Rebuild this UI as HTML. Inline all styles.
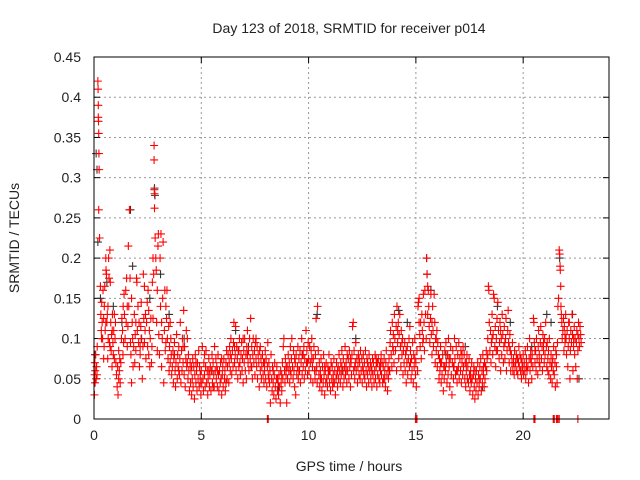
<!DOCTYPE html>
<html><head><meta charset="utf-8"><style>
html,body{margin:0;padding:0;background:#fff}
svg{display:block}
text{font-family:"Liberation Sans",sans-serif;font-size:14px;fill:#222}
</style></head><body>
<svg id="chart" width="640" height="480">
<text x="349" y="33" text-anchor="middle">Day 123 of 2018, SRMTID for receiver p014</text>
<text x="349" y="471" text-anchor="middle">GPS time / hours</text>
<text transform="translate(19,238) rotate(-90)" text-anchor="middle">SRMTID / TECUs</text>
<g id="grid"></g>
<g id="ticks"></g>
<g id="black"></g>
<g id="red"></g>
<rect x="94" y="57" width="515" height="362" fill="none" stroke="#000" stroke-width="1"/>
</svg>
<script>
const xTicks=[0,5,10,15,20];
const yTicks=[0,0.05,0.1,0.15,0.2,0.25,0.3,0.35,0.4,0.45];
const yTickLabels=["0","0.05","0.1","0.15","0.2","0.25","0.3","0.35","0.4","0.45"];
const redPts=[
[0.02,0.03],[0.03,0.055],[0.04,0.07],[0.05,0.045],[0.06,0.06],[0.08,0.08],[0.1,0.05],[0.12,0.065],[0.14,0.055],[0.15,0.09],
[0.18,0.42],[0.19,0.41],[0.2,0.39],[0.2,0.375],[0.21,0.37],[0.22,0.355],[0.23,0.33],[0.24,0.31],[0.22,0.26],[0.26,0.225],
[0.3,0.165],[0.32,0.13],[0.34,0.11],[0.36,0.145],[0.38,0.12],[0.4,0.1],[0.42,0.16],[0.45,0.125],[0.47,0.09],[0.48,0.14],
[0.5,0.165],[0.52,0.11],[0.55,0.2],[0.56,0.185],[0.58,0.18],[0.6,0.12],[0.62,0.13],[0.64,0.075],[0.66,0.1],[0.68,0.2],
[0.7,0.175],[0.72,0.095],[0.74,0.21],[0.76,0.17],[0.78,0.12],[0.8,0.085],[0.82,0.105],[0.84,0.065],[0.86,0.13],[0.88,0.095],
[0.9,0.08],[0.92,0.11],[0.95,0.075],[0.98,0.1],[1.0,0.12],[1.02,0.07],[1.05,0.055],[1.08,0.04],[1.1,0.065],[1.12,0.03],
[1.15,0.05],[1.18,0.06],[1.2,0.075],[1.22,0.045],[1.25,0.07],[1.28,0.1],[1.3,0.125],[1.33,0.11],[1.36,0.14],[1.38,0.095],
[1.4,0.155],[1.42,0.13],[1.45,0.1],[1.48,0.16],[1.5,0.12],[1.52,0.175],[1.55,0.09],[1.58,0.115],[1.6,0.215],[1.62,0.14],
[1.65,0.26],[1.68,0.175],[1.7,0.095],[1.72,0.08],[1.75,0.045],[1.78,0.12],[1.8,0.1],[1.82,0.065],[1.85,0.09],[1.88,0.13],
[1.9,0.07],[1.92,0.105],[1.95,0.085],[1.98,0.175],[2.0,0.17],[2.02,0.11],[2.05,0.14],[2.08,0.095],[2.1,0.12],[2.12,0.065],
[2.15,0.08],[2.18,0.115],[2.2,0.145],[2.22,0.1],[2.25,0.05],[2.28,0.09],[2.3,0.18],[2.32,0.125],[2.35,0.165],[2.38,0.11],
[2.4,0.13],[2.42,0.075],[2.45,0.12],[2.48,0.145],[2.5,0.09],[2.52,0.16],[2.55,0.135],[2.58,0.11],[2.6,0.065],[2.62,0.1],
[2.65,0.125],[2.68,0.07],[2.7,0.09],[2.72,0.17],[2.75,0.2],[2.78,0.18],[2.8,0.34],[2.8,0.322],[2.81,0.285],[2.82,0.28],
[2.82,0.262],[2.85,0.225],[2.88,0.2],[2.9,0.185],[2.92,0.12],[2.95,0.16],[2.98,0.215],[3.0,0.23],[3.02,0.105],[3.05,0.08],
[3.08,0.2],[3.1,0.14],[3.12,0.23],[3.15,0.065],[3.18,0.1],[3.2,0.15],[3.22,0.22],[3.25,0.045],[3.28,0.11],[3.3,0.16],
[3.32,0.085],[3.35,0.14],[3.38,0.125],[3.4,0.16],[3.42,0.1],[3.45,0.075],[3.48,0.115],[3.5,0.06],[3.52,0.09],[3.55,0.07],
[3.58,0.1],[3.6,0.08],[3.62,0.055],[3.65,0.065],[3.68,0.085],[3.7,0.045],[3.72,0.075],[3.75,0.095],[3.78,0.06],[3.8,0.04],
[3.82,0.07],[3.85,0.105],[3.88,0.05],[3.9,0.08],[3.92,0.065],[3.95,0.09],[3.98,0.055],[4.0,0.075],[4.02,0.12],[4.05,0.045],
[4.08,0.085],[4.1,0.06],[4.12,0.1],[4.15,0.07],[4.18,0.135],[4.2,0.055],[4.22,0.09],[4.25,0.04],[4.28,0.075],[4.3,0.11],
[4.32,0.065],[4.35,0.1],[4.38,0.05],[4.4,0.08],[4.42,0.06],[4.45,0.035],[4.48,0.07],[4.5,0.045],[4.52,0.06],[4.55,0.03],
[4.58,0.05],[4.6,0.075],[4.62,0.04],[4.65,0.065],[4.68,0.025],[4.7,0.055],[4.72,0.08],[4.75,0.045],[4.78,0.06],[4.8,0.035],
[4.82,0.07],[4.85,0.05],[4.88,0.085],[4.9,0.04],[4.92,0.065],[4.95,0.055],[4.98,0.03],[5.0,0.06],[5.02,0.045],[5.05,0.09],
[5.08,0.05],[5.1,0.035],[5.12,0.07],[5.15,0.055],[5.18,0.04],[5.2,0.065],[5.22,0.085],[5.25,0.045],[5.28,0.06],[5.3,0.03],
[5.32,0.05],[5.35,0.075],[5.38,0.04],[5.4,0.055],[5.42,0.065],[5.45,0.035],[5.48,0.06],[5.5,0.08],[5.52,0.045],[5.55,0.07],
[5.58,0.055],[5.6,0.04],[5.62,0.09],[5.65,0.06],[5.68,0.075],[5.7,0.05],[5.72,0.065],[5.75,0.04],[5.78,0.08],[5.8,0.055],
[5.82,0.035],[5.85,0.06],[5.88,0.045],[5.9,0.07],[5.92,0.05],[5.95,0.03],[5.98,0.055],[6.0,0.065],[6.02,0.04],[6.05,0.075],
[6.08,0.05],[6.1,0.06],[6.12,0.035],[6.15,0.07],[6.18,0.085],[6.2,0.05],[6.22,0.065],[6.25,0.08],[6.28,0.045],[6.3,0.07],
[6.32,0.09],[6.35,0.06],[6.38,0.1],[6.4,0.075],[6.42,0.055],[6.45,0.085],[6.48,0.065],[6.5,0.095],[6.52,0.12],[6.55,0.07],
[6.58,0.08],[6.6,0.115],[6.62,0.06],[6.65,0.09],[6.68,0.075],[6.7,0.05],[6.72,0.085],[6.75,0.065],[6.78,0.1],[6.8,0.07],
[6.82,0.055],[6.85,0.08],[6.88,0.095],[6.9,0.06],[6.92,0.075],[6.95,0.045],[6.98,0.085],[7.0,0.07],[7.02,0.1],[7.05,0.06],
[7.08,0.08],[7.1,0.05],[7.12,0.09],[7.15,0.11],[7.18,0.07],[7.2,0.085],[7.22,0.06],[7.25,0.1],[7.28,0.075],[7.3,0.125],
[7.32,0.065],[7.35,0.09],[7.38,0.05],[7.4,0.08],[7.42,0.1],[7.45,0.07],[7.48,0.085],[7.5,0.055],[7.52,0.095],[7.55,0.075],
[7.58,0.065],[7.6,0.09],[7.62,0.05],[7.65,0.08],[7.68,0.07],[7.7,0.04],[7.72,0.085],[7.75,0.06],[7.78,0.075],[7.8,0.05],
[7.82,0.065],[7.85,0.08],[7.88,0.055],[7.9,0.07],[7.92,0.045],[7.95,0.06],[7.98,0.085],[8.0,0.05],[8.02,0.075],[8.05,0.04],
[8.08,0.065],[8.1,0.095],[8.12,0.055],[8.15,0.07],[8.18,0.045],[8.2,0.06],[8.22,0.02],[8.25,0.08],[8.28,0.05],[8.3,0.035],
[8.32,0.065],[8.35,0.045],[8.38,0.03],[8.4,0.055],[8.42,0.07],[8.45,0.04],[8.48,0.025],[8.5,0.05],[8.52,0.065],[8.55,0.035],
[8.58,0.045],[8.6,0.03],[8.62,0.055],[8.65,0.04],[8.68,0.02],[8.7,0.06],[8.72,0.045],[8.75,0.035],[8.78,0.07],[8.8,0.05],
[8.82,0.09],[8.85,0.1],[8.88,0.06],[8.9,0.045],[8.92,0.075],[8.95,0.055],[8.98,0.02],[9.0,0.065],[9.02,0.05],[9.05,0.08],
[9.08,0.06],[9.1,0.07],[9.12,0.045],[9.15,0.09],[9.18,0.055],[9.2,0.075],[9.22,0.1],[9.25,0.065],[9.28,0.05],[9.3,0.085],
[9.32,0.06],[9.35,0.04],[9.38,0.07],[9.4,0.03],[9.42,0.08],[9.45,0.055],[9.48,0.065],[9.5,0.09],[9.52,0.05],[9.55,0.075],
[9.58,0.06],[9.6,0.085],[9.62,0.045],[9.65,0.07],[9.68,0.1],[9.7,0.055],[9.72,0.08],[9.75,0.065],[9.78,0.09],[9.8,0.05],
[9.82,0.075],[9.85,0.06],[9.88,0.11],[9.9,0.07],[9.92,0.085],[9.95,0.055],[9.98,0.095],[10.0,0.075],[10.02,0.06],[10.05,0.09],
[10.08,0.07],[10.1,0.05],[10.12,0.085],[10.15,0.1],[10.18,0.065],[10.2,0.045],[10.22,0.075],[10.25,0.09],[10.28,0.06],[10.3,0.05],
[10.32,0.08],[10.35,0.125],[10.38,0.065],[10.4,0.045],[10.42,0.14],[10.45,0.085],[10.48,0.055],[10.5,0.07],[10.52,0.04],[10.55,0.06],
[10.58,0.075],[10.6,0.05],[10.62,0.035],[10.65,0.065],[10.68,0.045],[10.7,0.08],[10.72,0.055],[10.75,0.03],[10.78,0.06],[10.8,0.045],
[10.82,0.07],[10.85,0.05],[10.88,0.04],[10.9,0.065],[10.92,0.055],[10.95,0.08],[10.98,0.045],[11.0,0.06],[11.02,0.035],[11.05,0.07],
[11.08,0.05],[11.1,0.065],[11.12,0.04],[11.15,0.055],[11.18,0.075],[11.2,0.045],[11.22,0.06],[11.25,0.03],[11.28,0.05],[11.3,0.07],
[11.32,0.055],[11.35,0.04],[11.38,0.065],[11.4,0.05],[11.42,0.08],[11.45,0.06],[11.48,0.045],[11.5,0.07],[11.52,0.055],[11.55,0.085],
[11.58,0.06],[11.6,0.04],[11.62,0.075],[11.65,0.05],[11.68,0.065],[11.7,0.09],[11.72,0.055],[11.75,0.07],[11.78,0.045],[11.8,0.08],
[11.82,0.06],[11.85,0.075],[11.88,0.05],[11.9,0.085],[11.92,0.065],[11.95,0.04],[11.98,0.07],[12.0,0.055],[12.02,0.08],[12.05,0.115],
[12.08,0.12],[12.1,0.06],[12.12,0.085],[12.15,0.05],[12.18,0.07],[12.2,0.095],[12.22,0.06],[12.25,0.075],[12.28,0.045],[12.3,0.065],
[12.32,0.08],[12.35,0.055],[12.38,0.07],[12.4,0.05],[12.42,0.085],[12.45,0.06],[12.48,0.075],[12.5,0.045],[12.52,0.065],[12.55,0.08],
[12.58,0.055],[12.6,0.07],[12.62,0.05],[12.65,0.085],[12.68,0.06],[12.7,0.04],[12.72,0.075],[12.75,0.055],[12.78,0.065],[12.8,0.045],
[12.82,0.08],[12.85,0.06],[12.88,0.07],[12.9,0.05],[12.92,0.065],[12.95,0.04],[12.98,0.075],[13.0,0.055],[13.02,0.07],[13.05,0.045],
[13.08,0.06],[13.1,0.08],[13.12,0.05],[13.15,0.065],[13.18,0.04],[13.2,0.07],[13.22,0.055],[13.25,0.075],[13.28,0.05],[13.3,0.065],
[13.32,0.045],[13.35,0.06],[13.38,0.08],[13.4,0.055],[13.42,0.07],[13.45,0.045],[13.48,0.065],[13.5,0.05],[13.52,0.075],[13.55,0.06],
[13.58,0.04],[13.6,0.07],[13.62,0.085],[13.65,0.055],[13.68,0.035],[13.7,0.065],[13.72,0.05],[13.75,0.075],[13.78,0.06],[13.8,0.095],
[13.82,0.11],[13.85,0.08],[13.88,0.065],[13.9,0.12],[13.92,0.09],[13.95,0.105],[13.98,0.07],[14.0,0.13],[14.02,0.1],[14.05,0.085],
[14.08,0.115],[14.1,0.06],[14.12,0.14],[14.15,0.095],[14.18,0.12],[14.2,0.075],[14.22,0.105],[14.25,0.13],[14.28,0.09],[14.3,0.065],
[14.32,0.11],[14.35,0.08],[14.38,0.1],[14.4,0.055],[14.42,0.085],[14.45,0.07],[14.48,0.095],[14.5,0.06],[14.52,0.08],[14.55,0.045],
[14.58,0.07],[14.6,0.09],[14.62,0.055],[14.65,0.075],[14.68,0.1],[14.7,0.065],[14.72,0.115],[14.75,0.085],[14.78,0.05],[14.8,0.075],
[14.82,0.06],[14.85,0.095],[14.88,0.045],[14.9,0.08],[14.92,0.065],[14.95,0.1],[14.98,0.055],[15.0,0.07],[15.02,0.04],[15.05,0.085],
[15.08,0.06],[15.1,0.14],[15.12,0.145],[15.15,0.15],[15.18,0.105],[15.2,0.09],[15.22,0.12],[15.25,0.075],[15.28,0.13],[15.3,0.11],
[15.32,0.095],[15.35,0.155],[15.38,0.12],[15.4,0.085],[15.42,0.16],[15.45,0.13],[15.48,0.1],[15.5,0.2],[15.52,0.18],[15.55,0.165],
[15.58,0.16],[15.6,0.14],[15.62,0.115],[15.65,0.095],[15.68,0.125],[15.7,0.155],[15.72,0.105],[15.75,0.08],[15.78,0.14],[15.8,0.11],
[15.82,0.09],[15.85,0.155],[15.88,0.12],[15.9,0.07],[15.92,0.1],[15.95,0.085],[15.98,0.11],[16.0,0.065],[16.02,0.095],[16.05,0.08],
[16.08,0.05],[16.1,0.075],[16.12,0.06],[16.15,0.09],[16.18,0.045],[16.2,0.07],[16.22,0.055],[16.25,0.08],[16.28,0.035],[16.3,0.065],
[16.32,0.05],[16.35,0.085],[16.38,0.06],[16.4,0.095],[16.42,0.07],[16.45,0.045],[16.48,0.08],[16.5,0.055],[16.52,0.1],[16.55,0.065],
[16.58,0.04],[16.6,0.075],[16.62,0.09],[16.65,0.055],[16.68,0.03],[16.7,0.07],[16.72,0.085],[16.75,0.05],[16.78,0.065],[16.8,0.1],
[16.82,0.075],[16.85,0.055],[16.88,0.09],[16.9,0.06],[16.92,0.045],[16.95,0.08],[16.98,0.065],[17.0,0.095],[17.02,0.05],[17.05,0.075],
[17.08,0.06],[17.1,0.085],[17.12,0.045],[17.15,0.07],[17.18,0.055],[17.2,0.09],[17.22,0.065],[17.25,0.08],[17.28,0.05],[17.3,0.07],
[17.32,0.04],[17.35,0.06],[17.38,0.08],[17.4,0.05],[17.42,0.065],[17.45,0.045],[17.48,0.075],[17.5,0.055],[17.52,0.035],[17.55,0.06],
[17.58,0.045],[17.6,0.07],[17.62,0.05],[17.65,0.03],[17.68,0.055],[17.7,0.065],[17.72,0.04],[17.75,0.025],[17.78,0.05],[17.8,0.035],
[17.82,0.06],[17.85,0.045],[17.88,0.07],[17.9,0.03],[17.92,0.055],[17.95,0.04],[17.98,0.065],[18.0,0.05],[18.02,0.075],[18.05,0.035],
[18.08,0.06],[18.1,0.045],[18.12,0.08],[18.15,0.055],[18.18,0.04],[18.2,0.07],[18.22,0.05],[18.25,0.065],[18.28,0.085],[18.3,0.06],
[18.32,0.075],[18.35,0.1],[18.38,0.165],[18.4,0.16],[18.42,0.12],[18.45,0.085],[18.48,0.11],[18.5,0.07],[18.52,0.095],[18.55,0.13],
[18.58,0.08],[18.6,0.105],[18.62,0.155],[18.65,0.15],[18.68,0.09],[18.7,0.115],[18.72,0.065],[18.75,0.1],[18.78,0.125],[18.8,0.085],
[18.82,0.145],[18.85,0.11],[18.88,0.075],[18.9,0.095],[18.92,0.12],[18.95,0.06],[18.98,0.1],[19.0,0.08],[19.02,0.13],[19.05,0.105],
[19.08,0.07],[19.1,0.09],[19.12,0.115],[19.15,0.075],[19.18,0.1],[19.2,0.125],[19.22,0.06],[19.25,0.085],[19.28,0.11],[19.3,0.135],
[19.32,0.095],[19.35,0.07],[19.38,0.105],[19.4,0.085],[19.42,0.06],[19.45,0.08],[19.48,0.07],[19.5,0.095],[19.52,0.06],[19.55,0.075],
[19.58,0.055],[19.6,0.085],[19.62,0.065],[19.65,0.07],[19.68,0.08],[19.7,0.06],[19.72,0.075],[19.75,0.055],[19.78,0.07],[19.8,0.09],
[19.82,0.065],[19.85,0.08],[19.88,0.06],[19.9,0.075],[19.92,0.05],[19.95,0.07],[19.98,0.065],[20.0,0.08],[20.02,0.055],[20.05,0.07],
[20.08,0.06],[20.1,0.085],[20.12,0.05],[20.15,0.075],[20.18,0.06],[20.2,0.09],[20.22,0.065],[20.25,0.045],[20.28,0.075],[20.3,0.1],
[20.32,0.06],[20.35,0.085],[20.38,0.07],[20.4,0.05],[20.42,0.08],[20.45,0.065],[20.48,0.125],[20.5,0.12],[20.52,0.095],[20.55,0.07],
[20.58,0.085],[20.6,0.06],[20.62,0.1],[20.65,0.075],[20.68,0.055],[20.7,0.09],[20.72,0.11],[20.75,0.08],[20.78,0.065],[20.8,0.095],
[20.82,0.115],[20.85,0.075],[20.88,0.09],[20.9,0.06],[20.92,0.105],[20.95,0.085],[20.98,0.07],[21.0,0.1],[21.02,0.08],[21.05,0.12],
[21.08,0.09],[21.1,0.065],[21.12,0.095],[21.15,0.075],[21.18,0.085],[21.2,0.055],[21.22,0.1],[21.25,0.07],[21.28,0.05],[21.3,0.08],
[21.32,0.065],[21.35,0.045],[21.38,0.075],[21.4,0.06],[21.42,0.09],[21.45,0.055],[21.48,0.07],[21.5,0.04],[21.52,0.085],[21.55,0.065],
[21.58,0.045],[21.6,0.095],[21.62,0.14],[21.65,0.15],[21.68,0.21],[21.7,0.205],[21.72,0.19],[21.73,0.185],[21.75,0.165],[21.76,0.14],
[21.78,0.13],[21.8,0.12],[21.82,0.1],[21.85,0.11],[21.88,0.125],[21.9,0.085],[21.92,0.115],[21.95,0.095],[21.98,0.13],[22.0,0.1],
[22.02,0.08],[22.05,0.11],[22.08,0.065],[22.1,0.09],[22.12,0.12],[22.15,0.1],[22.18,0.05],[22.2,0.085],[22.22,0.11],[22.25,0.095],
[22.28,0.13],[22.3,0.105],[22.32,0.06],[22.35,0.09],[22.38,0.115],[22.4,0.08],[22.42,0.1],[22.45,0.065],[22.48,0.095],[22.5,0.11],
[22.52,0.05],[22.55,0.085],[22.58,0.12],[22.6,0.1],[22.62,0.09],[22.65,0.115],[22.68,0.105],[22.7,0.095]
];
const redPtsExtra=[
[0.35,0.1],[0.45,0.075],[0.55,0.12],[0.65,0.14],[0.75,0.09],[0.85,0.11],[0.95,0.13],[1.15,0.085],[1.35,0.08],[1.55,0.14],
[1.75,0.15],[1.95,0.12],[2.15,0.09],[2.35,0.095],[2.55,0.08],[2.75,0.125],[2.95,0.085],[3.15,0.12],[3.35,0.095],[3.55,0.12],
[3.75,0.08],[3.95,0.06],[4.15,0.09],[4.35,0.07],[4.55,0.065],[4.75,0.07],[4.95,0.045],[5.15,0.08],[5.35,0.06],[5.55,0.04],
[5.75,0.06],[5.95,0.075],[6.15,0.045],[6.35,0.08],[6.55,0.09],[6.75,0.085],[6.95,0.1],[7.15,0.08],[7.35,0.065],[7.55,0.1],
[7.75,0.09],[7.95,0.07],[8.15,0.05],[8.35,0.06],[8.55,0.05],[8.75,0.055],[8.95,0.065],[9.15,0.06],[9.35,0.075],[9.55,0.06],
[9.75,0.08],[9.95,0.07],[10.15,0.075],[10.35,0.06],[10.55,0.05],[10.75,0.065],[10.95,0.06],[11.15,0.045],[11.35,0.06],[11.55,0.065],
[11.75,0.06],[11.95,0.075],[12.15,0.065],[12.35,0.075],[12.55,0.06],[12.75,0.07],[12.95,0.06],[13.15,0.075],[13.35,0.07],[13.55,0.05],
[13.75,0.06],[13.95,0.085],[14.15,0.11],[14.35,0.095],[14.55,0.085],[14.75,0.07],[14.95,0.075],[15.15,0.12],[15.35,0.1],[15.55,0.13],
[15.75,0.12],[15.95,0.1],[16.15,0.07],[16.35,0.065],[16.55,0.075],[16.75,0.065],[16.95,0.06],[17.15,0.08],[17.35,0.07],[17.55,0.05],
[17.75,0.06],[17.95,0.05],[18.15,0.065],[18.35,0.08],[18.55,0.1],[18.75,0.085],[18.95,0.11],[19.15,0.095],[19.35,0.09],[19.55,0.07],
[19.75,0.075],[19.95,0.06],[20.15,0.065],[20.35,0.075],[20.55,0.085],[20.75,0.07],[20.95,0.095],[21.15,0.06],[21.35,0.07],[21.55,0.08],
[21.95,0.105],[22.15,0.12],[22.35,0.1],[22.55,0.105]
];
const blackPts=[
[0.1,0.33],[0.14,0.31],[0.18,0.22],[0.05,0.08],[0.3,0.15],[0.6,0.17],[0.9,0.14],[1.3,0.12],[1.7,0.26],[1.8,0.19],
[2.2,0.1],[2.6,0.15],[2.82,0.287],[2.84,0.278],[3.1,0.18],[3.5,0.13],[4.2,0.1],[5.5,0.06],[6.6,0.11],[7.2,0.09],
[8.6,0.04],[9.7,0.08],[10.4,0.13],[11.6,0.06],[12.2,0.1],[13.2,0.07],[14.2,0.135],[14.6,0.12],[15.5,0.2],[15.52,0.18],
[15.7,0.16],[16.4,0.08],[17.3,0.09],[18.1,0.04],[18.8,0.14],[19.4,0.12],[20.4,0.09],[21.1,0.13],[21.3,0.12],[21.7,0.2],
[22.3,0.13],[22.6,0.05]
];
const zeroPts=[8.08,8.12,14.98,15.02,15.05,20.5,20.55,21.4,21.45,21.55,21.6,21.62,21.68,22.55];

const X0=94,X1=609,Y0=419,Y1=57,XMAX=24,YMAX=0.45;
function sx(v){return X0+(X1-X0)*v/XMAX;}
function sy(v){return Y0-(Y0-Y1)*v/YMAX;}
const NS="http://www.w3.org/2000/svg";
function mk(tag,attrs,parent){const e=document.createElementNS(NS,tag);for(const k in attrs)e.setAttribute(k,attrs[k]);parent.appendChild(e);return e;}
const grid=document.getElementById('grid'),ticks=document.getElementById('ticks');
xTicks.forEach(t=>{
  const x=sx(t);
  if(t>0){const g=mk('line',{x1:x,y1:Y0,x2:x,y2:Y1,stroke:'#999','stroke-dasharray':'2,3','stroke-width':1},grid);
  
  }
  mk('line',{x1:x,y1:Y0,x2:x,y2:Y0-6,stroke:'#000'},ticks);
  mk('line',{x1:x,y1:Y1,x2:x,y2:Y1+6,stroke:'#000'},ticks);
  const tx=mk('text',{x:x,y:Y0+21,'text-anchor':'middle'},ticks);tx.textContent=String(t);
  
  
});
yTicks.forEach((t,i)=>{
  const y=sy(t);
  if(t>0&&t<YMAX){const g=mk('line',{x1:X0,y1:y,x2:X1,y2:y,stroke:'#999','stroke-dasharray':'2,3','stroke-width':1},grid);
  
  }
  mk('line',{x1:X0,y1:y,x2:X0+6,y2:y,stroke:'#000'},ticks);
  mk('line',{x1:X1,y1:y,x2:X1-6,y2:y,stroke:'#000'},ticks);
  const tx=mk('text',{x:X0-13,y:y+5,'text-anchor':'end'},ticks);tx.textContent=yTickLabels[i];
  
  
});
function plus(pts,color,parent,name){
  let d='';
  pts.forEach(p=>{const x=sx(p[0]),y=sy(p[1]);d+=`M${x-4},${y}h8M${x},${y-4}v8`;});
  const el=mk('path',{d:d,stroke:color,'stroke-width':1.1,fill:'none'},parent);
  
  
}
plus(blackPts,'#333',document.getElementById('black'),'black-points');
plus(redPts,'#f00',document.getElementById('red'),'red-points');
plus(redPtsExtra,'#f00',document.getElementById('red'),'red-points-extra');
plus(zeroPts.map(t=>[t,0]),'#f00',document.getElementById('red'),'zero-points');
</script>
</body></html>
